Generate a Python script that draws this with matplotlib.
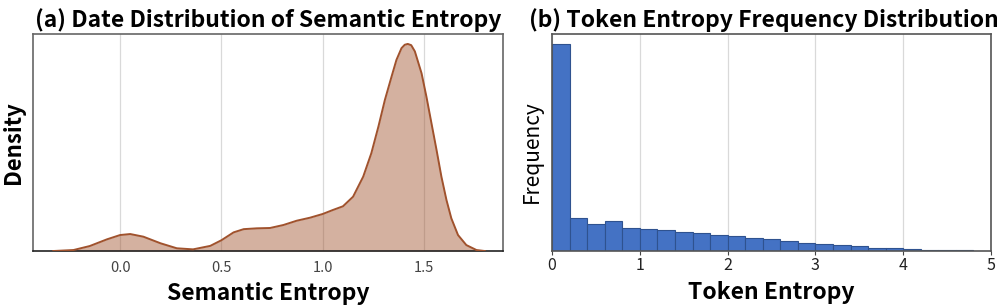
import numpy as np
import matplotlib
matplotlib.use("Agg")
import matplotlib.pyplot as plt

plt.rcParams['font.family'] = ['Noto Sans CJK SC', 'DejaVu Sans']

# (a) semantic entropy density curve
sem_x = [-0.33, -0.23, -0.15, -0.065, 0.0, 0.05, 0.115, 0.2, 0.28, 0.36,
         0.445, 0.5, 0.56, 0.61, 0.675, 0.74, 0.806, 0.872, 0.937, 1.0,
         1.05, 1.1, 1.15, 1.2, 1.24, 1.275, 1.307, 1.34, 1.364, 1.389,
         1.405, 1.42, 1.437, 1.455, 1.488, 1.512, 1.537, 1.562, 1.586, 1.611,
         1.635, 1.668, 1.709, 1.759, 1.80]
sem_density = [0.0, 0.012, 0.06, 0.141, 0.193, 0.205, 0.173, 0.093, 0.033, 0.02,
               0.062, 0.13, 0.225, 0.264, 0.274, 0.278, 0.314, 0.366, 0.402, 0.447,
               0.495, 0.54, 0.656, 0.898, 1.18, 1.502, 1.824, 2.106, 2.307, 2.449,
               2.49, 2.5, 2.485, 2.41, 2.146, 1.864, 1.542, 1.22, 0.898, 0.616,
               0.395, 0.193, 0.072, 0.012, 0.0]

# (b) token entropy histogram, bins of width 0.2 from 0 to 5
tok_edges = np.round(np.arange(0, 5.01, 0.2), 2)
tok_counts = [620, 98, 82, 90, 70, 66, 62, 58, 54, 48,
              45, 40, 35, 30, 25, 21, 18, 14, 10, 8,
              6, 4.5, 3, 2, 1]

fig = plt.figure(figsize=(9.97, 3.08), dpi=100)
ax1 = fig.add_axes([0.0331, 0.185, 0.4714, 0.706])
ax2 = fig.add_axes([0.5537, 0.185, 0.4403, 0.706])

# left panel
ax1.fill_between(sem_x, sem_density, color='sienna', alpha=0.45, lw=0, zorder=2)
ax1.plot(sem_x, sem_density, color='sienna', lw=1.4, zorder=3,
         solid_joinstyle='round')
ax1.set_xlim(-0.43, 1.89)
ax1.set_ylim(0, max(sem_density) * 1.05)
ax1.set_xticks([0.0, 0.5, 1.0, 1.5])
ax1.set_xticklabels(['0.0', '0.5', '1.0', '1.5'])
ax1.set_yticks([])
ax1.tick_params(axis='x', length=0, pad=7, labelsize=10.5, labelcolor='#444444')
ax1.grid(axis='x', color='#d9d9d9', lw=0.9, zorder=1)
ax1.set_axisbelow(True)
for s in ax1.spines.values():
    s.set_color('#666666')
    s.set_linewidth(1.2)
ax1.spines['bottom'].set_color('#222222')
ax1.set_xlabel('Semantic Entropy', fontsize=16.5, fontweight='bold', labelpad=5)
ax1.set_ylabel('Density', fontsize=16, fontweight='bold', labelpad=6)
ax1.set_title('(a) Date Distribution of Semantic Entropy', fontsize=16.5,
              fontweight='bold', pad=5)

# right panel
ax2.bar(tok_edges[:-1], tok_counts, width=0.2, align='edge',
        color='#4472C4', edgecolor='#2F528F', lw=0.8, zorder=2)
ax2.set_xlim(0, 5)
ax2.set_ylim(0, max(tok_counts) * 1.048)
ax2.set_xticks([0, 1, 2, 3, 4, 5])
ax2.set_yticks([])
ax2.tick_params(axis='x', length=3, pad=1, labelsize=11.5, color='#444444',
                labelcolor='#222222')
ax2.grid(axis='x', color='#d9d9d9', lw=0.9, zorder=0)
ax2.set_axisbelow(True)
for s in ax2.spines.values():
    s.set_color('#555555')
    s.set_linewidth(1.2)
ax2.set_xlabel('Token Entropy', fontsize=16.5, fontweight='bold', labelpad=5)
ax2.set_ylabel('Frequency', fontsize=15)
ax2.yaxis.set_label_coords(-0.021, 0.455)
ax2.set_title('(b) Token Entropy Frequency Distribution', fontsize=16.5,
              fontweight='bold', pad=5, x=0.483)

fig.savefig('out.png', dpi=100)
